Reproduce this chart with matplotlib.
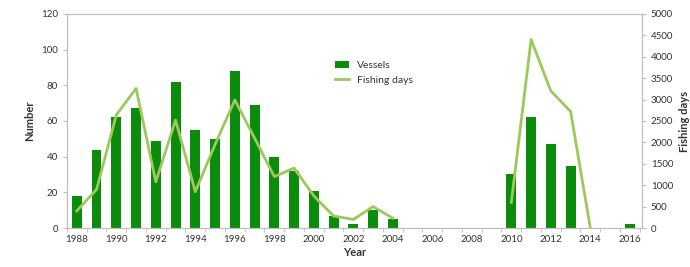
import matplotlib.pyplot as plt
import numpy as np

plt.rcParams['font.family'] = ['Lato', 'DejaVu Sans']

years = list(range(1988, 2017))
vessels = [18, 44, 62, 67, 49, 82, 55, 50, 88, 69, 40, 32, 21, 7, 2, 10, 5,
           0, 0, 0, 0, 0, 30, 62, 47, 35, 0, 0, 2]
fishing_days = [400, 900, 2640, 3260, 1080, 2520, 850, 1950, 2990, 2100, 1200,
                1400, 750, 280, 200, 500, 230,
                np.nan, np.nan, np.nan, np.nan, np.nan,
                600, 4400, 3200, 2720, 0, np.nan, np.nan]
tick_years = list(range(1988, 2017, 2))

bar_color = '#0c8c0c'
line_color = '#9cc85c'
grey = '#bfbfbf'
text_color = '#333333'

fig = plt.figure(figsize=(6.9, 2.67), dpi=100)
ax = fig.add_axes([0.097, 0.146, 0.833, 0.802])
ax2 = ax.twinx()

bars = ax.bar(years, vessels, width=0.5, color=bar_color, label='Vessels', zorder=2)
line, = ax2.plot(years, fishing_days, color=line_color, lw=2, label='Fishing days', zorder=3)

ax.set_xlim(1987.5, 2016.6)
ax.set_ylim(0, 120)
ax.set_yticks(range(0, 121, 20))
ax2.set_ylim(0, 5000)
ax2.set_yticks(range(0, 5001, 500))

ax.set_xticks(tick_years)
ax.set_xticks(np.arange(1987.5, 2017, 1), minor=True)
ax.tick_params(axis='x', which='major', length=0, labelsize=7, colors=text_color, pad=5)
ax.tick_params(axis='x', which='minor', length=3, color=grey, direction='out')
ax.tick_params(axis='y', length=3, color=grey, labelsize=7, colors=text_color)
ax2.tick_params(axis='y', length=3, color=grey, labelsize=7, colors=text_color)

for a in (ax, ax2):
    for s in a.spines.values():
        s.set_color(grey)
        s.set_linewidth(0.8)

ax.set_xlabel('Year', fontsize=8, fontweight='bold', color=text_color, labelpad=2)
ax.set_ylabel('Number', fontsize=8, fontweight='bold', color=text_color)
ax2.set_ylabel('Fishing days', fontsize=8, fontweight='bold', color=text_color, labelpad=4)

ax2.legend([bars, line], ['Vessels', 'Fishing days'], loc='upper left',
           bbox_to_anchor=(0.46, 0.8), frameon=False, fontsize=7.5,
           handlelength=1.3, labelcolor=text_color, borderaxespad=0)

fig.savefig('out.png', dpi=100, facecolor='white')
